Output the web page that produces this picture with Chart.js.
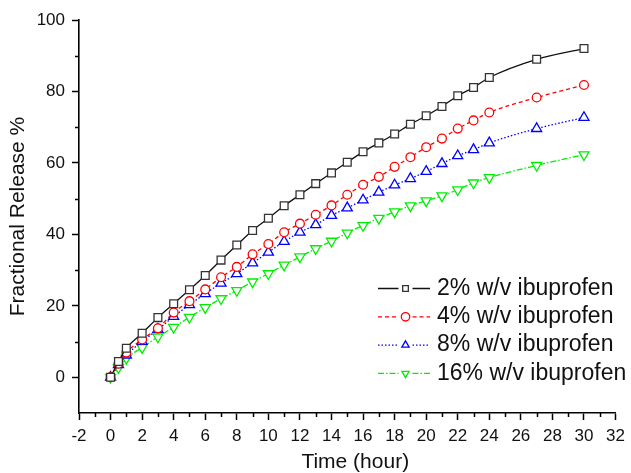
<!DOCTYPE html>
<html>
<head>
<meta charset="utf-8">
<title>Fractional Release</title>
<script src="https://cdn.jsdelivr.net/npm/chart.js@4.4.1/dist/chart.umd.min.js"></script>
<style>
    html, body { margin: 0; padding: 0; background: #fff; }
    #chartRelease { display: block; }
</style>
</head>
<body>
<canvas id="chartRelease" width="631" height="473"></canvas>
<script>
// --- DADOS ---
const tempos = [0, 0.5, 1, 2, 3, 4, 5, 6, 7, 8, 9, 10, 11, 12, 13, 14, 15, 16, 17, 18, 19, 20, 21, 22, 23, 24, 27, 30];

const ibu2  = [0, 4.4, 8.1, 12.3, 16.7, 20.6, 24.5, 28.5, 32.8, 37.0, 41.1, 44.5, 48.0, 51.1, 54.2, 57.2, 60.2, 63.1, 65.6, 68.1, 70.8, 73.2, 75.8, 78.8, 81.1, 83.9, 89.0, 92.0];
const ibu4  = [0, 3.8, 6.9, 10.6, 13.7, 18.1, 21.3, 24.6, 28.0, 30.9, 34.4, 37.3, 40.6, 43.0, 45.5, 48.1, 51.1, 53.9, 56.1, 58.9, 61.6, 64.4, 66.8, 69.6, 71.9, 74.1, 78.3, 81.8];
const ibu8  = [0, 3.5, 6.2, 10.0, 13.4, 17.0, 20.3, 23.4, 26.3, 29.0, 32.0, 35.0, 38.0, 40.6, 42.7, 45.3, 47.4, 49.6, 51.8, 53.8, 55.6, 57.6, 59.8, 62.0, 63.7, 65.6, 69.6, 72.7];
const ibu16 = [0, 2.7, 5.3, 8.3, 11.3, 14.0, 16.8, 19.5, 22.0, 24.3, 26.7, 29.0, 31.4, 33.7, 36.0, 38.1, 40.4, 42.5, 44.5, 46.3, 48.0, 49.4, 50.8, 52.5, 54.4, 55.9, 59.3, 62.3];

const nomes = ['2% w/v ibuprofen', '4% w/v ibuprofen', '8% w/v ibuprofen', '16% w/v ibuprofen'];
const tituloX = 'Time (hour)';
const tituloY = 'Fractional Release %';

// ticks (principais com rótulo, secundários sem)
const xTicks = [-2, 0, 2, 4, 6, 8, 10, 12, 14, 16, 18, 20, 22, 24, 26, 28, 30, 32];
const xMinor = [-1, 1, 3, 5, 7, 9, 11, 13, 15, 17, 19, 21, 23, 25, 27, 29, 31];
const yTicks = [0, 20, 40, 60, 80, 100];
const yMinor = [10, 30, 50, 70, 90];

const FONTE = 'Arial, "Liberation Sans", sans-serif';

// monta pontos {x,y}
const pares = (ys) => tempos.map((t, i) => ({ x: t, y: ys[i] }));

// Plugin: ticks secundários (mais curtos) + título do eixo X
const minorTicks = {
    id: 'minorTicks',
    afterDraw(chart) {
        const { ctx, scales: { x, y } } = chart;
        ctx.save();
        ctx.strokeStyle = '#000';
        ctx.lineWidth = 1.5;
        xMinor.forEach(v => {
            const px = Math.round(x.getPixelForValue(v)) + 0.5;
            ctx.beginPath();
            ctx.moveTo(px, x.top);
            ctx.lineTo(px, x.top + 4);
            ctx.stroke();
        });
        yMinor.forEach(v => {
            const py = Math.round(y.getPixelForValue(v)) + 0.5;
            ctx.beginPath();
            ctx.moveTo(y.right, py);
            ctx.lineTo(y.right - 4, py);
            ctx.stroke();
        });

        // título X um pouco deslocado à direita (como no original)
        ctx.fillStyle = '#111';
        ctx.font = '21px ' + FONTE;
        ctx.textAlign = 'center';
        ctx.textBaseline = 'middle';
        ctx.fillText(tituloX, (x.left + x.right) / 2 + 8, 462);
        ctx.restore();
    }
};

// Plugin: legenda estilo Origin (linha - marcador - linha)
const legendaOrigin = {
    id: 'legendaOrigin',
    afterDraw(chart) {
        const { ctx } = chart;
        const x0 = 378, x1 = 430, xm = 405.5, xt = 437;
        const y0 = 288.5, passo = 28.3;
        ctx.save();
        chart.data.datasets.forEach((ds, i) => {
            const yy = y0 + i * passo;
            ctx.strokeStyle = ds.borderColor;
            ctx.lineWidth = ds.borderWidth;
            ctx.setLineDash(ds.borderDash || []);
            ctx.beginPath();
            ctx.moveTo(x0, yy); ctx.lineTo(xm - 7, yy);
            ctx.moveTo(xm + 7, yy); ctx.lineTo(x1, yy);
            ctx.stroke();
            ctx.setLineDash([]);

            ctx.fillStyle = '#fff';
            ctx.strokeStyle = ds.pointBorderColor;
            ctx.lineWidth = 1.3;
            Chart.helpers.drawPoint(ctx, {
                pointStyle: ds.pointStyle,
                rotation: ds.pointRotation || 0,
                radius: ds.pointStyle === 'rect' ? 4 : 4.2,
                borderWidth: 1.3
            }, xm, yy);

            ctx.fillStyle = '#111';
            ctx.font = '23px ' + FONTE;
            ctx.textAlign = 'left';
            ctx.textBaseline = 'middle';
            ctx.fillText(ds.label, xt, yy);
        });
        ctx.restore();
    }
};

const ctx = document.getElementById('chartRelease');

new Chart(ctx, {
    type: 'line',
    data: {
        datasets: [
            {
                label: nomes[0], data: pares(ibu2),
                borderColor: '#111', borderWidth: 1.3,
                pointStyle: 'rect', pointRadius: 5.5, pointBorderColor: '#333',
                pointBackgroundColor: '#fff', pointBorderWidth: 1.3
            },
            {
                label: nomes[1], data: pares(ibu4),
                borderColor: '#ff0000', borderWidth: 1.3, borderDash: [4, 3],
                pointStyle: 'circle', pointRadius: 4.4, pointBorderColor: '#ff0000',
                pointBackgroundColor: '#fff', pointBorderWidth: 1.3
            },
            {
                label: nomes[2], data: pares(ibu8),
                borderColor: '#0000ff', borderWidth: 1.3, borderDash: [1.5, 2],
                pointStyle: 'triangle', pointRadius: 5.8, pointBorderColor: '#0000ff',
                pointBackgroundColor: '#fff', pointBorderWidth: 1.3
            },
            {
                label: nomes[3], data: pares(ibu16),
                borderColor: '#00ee00', borderWidth: 1.3, borderDash: [6, 2, 1.5, 2],
                pointStyle: 'triangle', pointRotation: 180, pointRadius: 5.8, pointBorderColor: '#00ee00',
                pointBackgroundColor: '#fff', pointBorderWidth: 1.3
            }
        ]
    },
    options: {
        responsive: false,
        animation: false,
        devicePixelRatio: 1,
        layout: { padding: { left: 0, right: 13, top: 20, bottom: 0 } },
        elements: { line: { cubicInterpolationMode: 'monotone' } },
        plugins: { legend: { display: false }, tooltip: { enabled: false } },
        scales: {
            x: {
                type: 'linear', min: -2, max: 32,
                afterBuildTicks: s => { s.ticks = xTicks.map(v => ({ value: v })); },
                afterFit: s => { s.height = 60; },
                grid: { display: true, drawOnChartArea: false, drawTicks: true, tickLength: 7, tickWidth: 1.5, tickColor: '#000' },
                border: { display: true, color: '#000', width: 1.6 },
                ticks: { color: '#111', font: { family: FONTE, size: 17 }, padding: 6, maxRotation: 0, autoSkip: false },
                title: { display: false }
            },
            y: {
                type: 'linear', min: -10, max: 100,
                afterBuildTicks: s => { s.ticks = yTicks.map(v => ({ value: v })); },
                afterFit: s => { s.width = 79; },
                grid: { display: true, drawOnChartArea: false, drawTicks: true, tickLength: 7, tickWidth: 1.5, tickColor: '#000' },
                border: { display: true, color: '#000', width: 1.6 },
                ticks: { color: '#111', font: { family: FONTE, size: 17 }, padding: 7 },
                title: { display: true, text: tituloY, color: '#111', font: { family: FONTE, size: 21, lineHeight: 1 }, padding: { top: 7.5, bottom: 0 } }
            }
        }
    },
    plugins: [minorTicks, legendaOrigin]
});
</script>
</body>
</html>
